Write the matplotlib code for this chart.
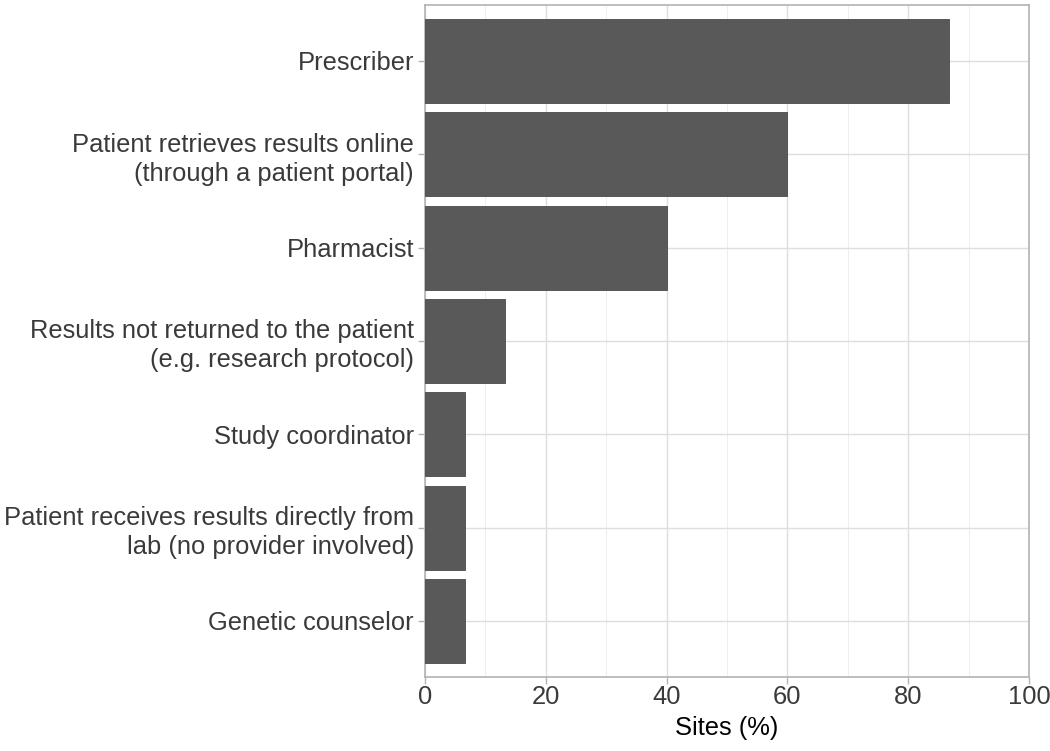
import matplotlib.pyplot as plt
import numpy as np

plt.rcParams['font.family'] = ['Liberation Sans', 'DejaVu Sans']

# categories top to bottom
labels = ["Prescriber",
          "Patient retrieves results online\n(through a patient portal)",
          "Pharmacist",
          "Results not returned to the patient\n(e.g. research protocol)",
          "Study coordinator",
          "Patient receives results directly from\nlab (no provider involved)",
          "Genetic counselor"]
sites_pct = [86.7, 60.0, 40.0, 13.3, 6.7, 6.7, 6.7]
xticks = [0, 20, 40, 60, 80, 100]

fig = plt.figure(figsize=(10.5, 7.51), dpi=100)
ax = fig.add_axes([425 / 1050, 1 - 677 / 751, 604 / 1050, 672 / 751])

n = len(labels)
y = np.arange(n)[::-1] + 1
ax.barh(y, sites_pct, height=0.9, color='#595959', edgecolor='#4a4a4a', linewidth=0.6, zorder=3)

ax.set_xlim(0, 100)
ax.set_ylim(0.4, n + 0.6)
ax.set_xticks(xticks)
ax.set_xticks(np.arange(10, 100, 20), minor=True)
ax.set_yticks(y)
ax.set_yticklabels(labels)

ax.grid(which='major', color='#DEDEDE', linewidth=1.0, zorder=0)
ax.grid(which='minor', axis='x', color='#EBEBEB', linewidth=0.6, zorder=0)
ax.set_axisbelow(True)

for s in ax.spines.values():
    s.set_color('#B3B3B3')
    s.set_linewidth(1.2)

ax.tick_params(axis='both', which='major', colors='#B3B3B3', length=5, width=1,
               labelsize=18.4, labelcolor='#3A3A3A', pad=3)
ax.tick_params(axis='x', pad=1)
ax.tick_params(axis='x', which='minor', length=0)
for t in ax.get_yticklabels():
    t.set_horizontalalignment('right')
    t.set_multialignment('right')
    t.set_linespacing(1.25)

ax.set_xlabel('Sites (%)', fontsize=18.4, color='black', labelpad=5)

fig.savefig('out.png', dpi=100)
